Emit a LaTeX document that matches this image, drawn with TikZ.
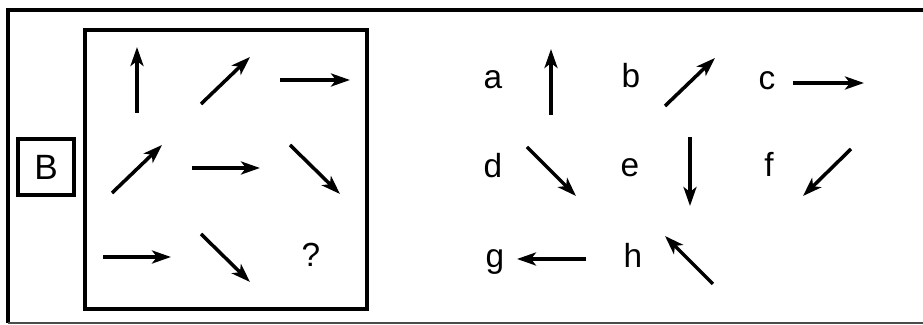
\documentclass[tikz,border=0pt]{standalone}
\usepackage{fontspec}
\setmainfont{Liberation Sans}
\usetikzlibrary{arrows.meta, positioning}

\begin{document}
\begin{tikzpicture}[
    arr/.style={line width=2pt, -{Stealth[length=3.8mm, width=2.6mm, inset=1mm]}},
    lbl/.style={font=\fontsize{19}{21}\selectfont, anchor=base, inner sep=0pt}]
  \useasboundingbox (0,0) rectangle (18.46,6.5);

  % Outer frame
  \draw[line width=1.8pt] (18.46,6.3) -- (0.16,6.3) -- (0.16,0.04);
  \draw[line width=0.8pt, black!70] (0.16,0.04) -- (18.46,0.04);

  % Label box and matrix box
  \node[draw, line width=1.8pt, minimum size=1.12cm, inner sep=0pt,
        font=\fontsize{20}{22}\selectfont] (tag) at (0.92,3.16) {B};
  \draw[line width=1.8pt] (1.70,0.32) rectangle (7.34,5.90);

  % Matrix arrows
  \draw[arr] (2.74,4.24) -- (2.74,5.56);
  \draw[arr] (4.02,4.42) -- (5.00,5.36);
  \draw[arr] (5.60,4.90) -- (7.00,4.90);
  \draw[arr] (2.24,2.64) -- (3.24,3.60);
  \draw[arr] (3.84,3.14) -- (5.20,3.14);
  \draw[arr] (5.80,3.60) -- (6.80,2.62);
  \draw[arr] (2.06,1.36) -- (3.42,1.36);
  \draw[arr] (4.02,1.82) -- (5.00,0.86);
  \node[lbl] (qm) at (6.22,1.16) {?};

  % Answer choices
  \node[lbl] (a) at (9.86,4.72) {a};
  \node[lbl] (b) at (12.62,4.74) {b};
  \node[lbl] (c) at (15.34,4.70) {c};
  \node[lbl] (d) at (9.86,2.94) {d};
  \node[lbl] (e) at (12.60,2.96) {e};
  \node[lbl] (f) at (15.38,2.96) {f};
  \node[lbl] (g) at (9.90,1.14) {g};
  \node[lbl] (h) at (12.66,1.14) {h};

  \draw[arr] (11.02,4.20) -- (11.02,5.52);
  \draw[arr] (13.30,4.38) -- (14.30,5.34);
  \draw[arr] (15.86,4.84) -- (17.28,4.84);
  \draw[arr] (10.54,3.56) -- (11.52,2.58);
  \draw[arr] (13.80,3.76) -- (13.80,2.38);
  \draw[arr] (17.02,3.52) -- (16.06,2.58);
  \draw[arr] (11.72,1.32) -- (10.34,1.32);
  \draw[arr] (14.26,0.82) -- (13.30,1.78);
\end{tikzpicture}
\end{document}
